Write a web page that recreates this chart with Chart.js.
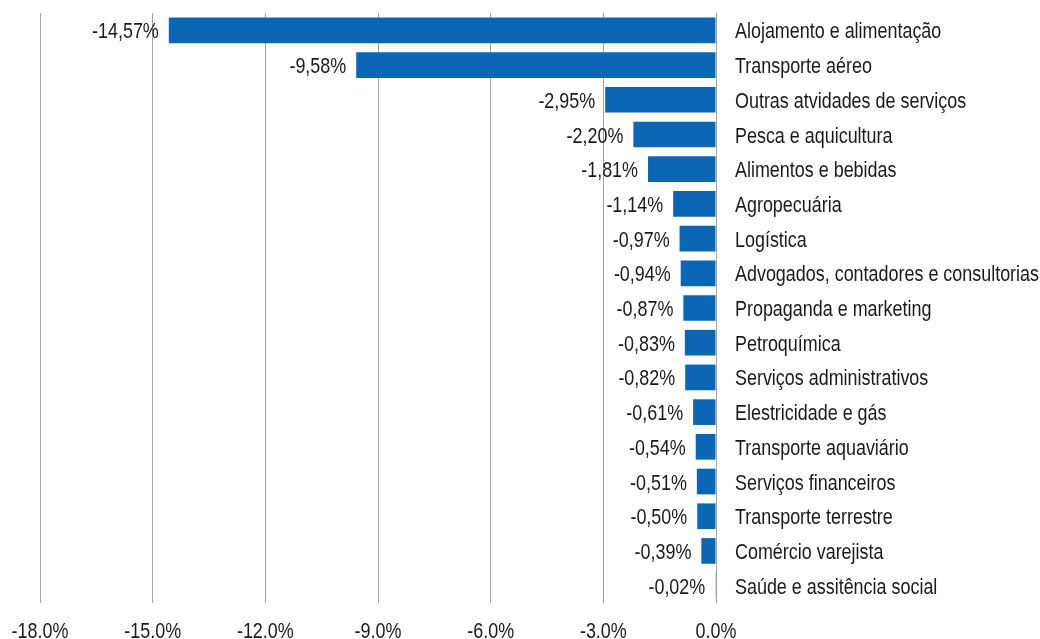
<!DOCTYPE html>
<html>
<head>
<meta charset="utf-8">
<script src="https://cdn.jsdelivr.net/npm/chart.js@4"></script>
<style>
  html, body { margin: 0; padding: 0; background: #fff; }
  #wrap { width: 1040px; height: 639px; }
</style>
</head>
<body>
<div id="wrap"><canvas id="myChart" width="1040" height="639"></canvas></div>
<script>
const categories = [
  "Alojamento e alimentação",
  "Transporte aéreo",
  "Outras atvidades de serviços",
  "Pesca e aquicultura",
  "Alimentos e bebidas",
  "Agropecuária",
  "Logística",
  "Advogados, contadores e consultorias",
  "Propaganda e marketing",
  "Petroquímica",
  "Serviços administrativos",
  "Elestricidade e gás",
  "Transporte aquaviário",
  "Serviços financeiros",
  "Transporte terrestre",
  "Comércio varejista",
  "Saúde e assitência social"
]
const values = [-14.57, -9.58, -2.95, -2.20, -1.81, -1.14, -0.97, -0.94, -0.87, -0.83, -0.82, -0.61, -0.54, -0.51, -0.50, -0.39, -0.02]
const xTicks = [-18, -15, -12, -9, -6, -3, 0]
const xTickLabels = ["-18.0%", "-15.0%", "-12.0%", "-9.0%", "-6.0%", "-3.0%", "0.0%"]

const FONT = "'Liberation Sans', Arial, sans-serif"
const NARROW = 0.815   // no narrow face installed, so squeeze text horizontally
const BLUE = '#0b67b6'

// every fillText on this chart gets a maxWidth so the text comes out condensed
const squeeze = {
  id: 'squeeze',
  beforeInit(chart) {
    const c = chart.ctx
    const fill = c.fillText.bind(c)
    c.fillText = (text, x, y, maxWidth) => {
      const w = c.measureText(text).width * NARROW
      fill(text, x, y, maxWidth === undefined ? w : Math.min(w, maxWidth))
    }
  }
}

// percent label just left of each bar end, comma as decimal mark
const valueLabels = {
  id: 'valueLabels',
  afterDatasetsDraw(chart) {
    const ctx = chart.ctx
    const meta = chart.getDatasetMeta(0)
    ctx.save()
    ctx.font = "22px " + FONT
    ctx.fillStyle = '#1a1a1a'
    ctx.textAlign = 'right'
    ctx.textBaseline = 'middle'
    meta.data.forEach((bar, i) => {
      const txt = values[i].toFixed(2).replace('.', ',') + '%'
      ctx.fillText(txt, bar.x - 10, bar.y + 2)
    })
    ctx.restore()
  }
}

const ctx = document.getElementById('myChart')
const myChart = new Chart(ctx, {
  type: 'bar',
  data: {
    labels: categories,
    datasets: [{
      data: values,
      backgroundColor: BLUE,
      borderWidth: 0,
      categoryPercentage: 1,
      barPercentage: 0.74
    }]
  },
  plugins: [squeeze, valueLabels],
  options: {
    indexAxis: 'y',
    responsive: false,
    animation: false,
    layout: { padding: { top: 13, left: 40, right: 0, bottom: 0 } },
    plugins: {
      legend: { display: false },
      tooltip: { enabled: false }
    },
    scales: {
      x: {
        min: -18,
        max: 0,
        afterBuildTicks(scale) {
          scale.ticks = xTicks.map(v => ({ value: v }))
        },
        afterFit(scale) {
          scale.height = 36
          scale.paddingLeft = 0
          scale.paddingRight = 0
        },
        border: { display: false },
        grid: { color: '#a3a3a3', lineWidth: 1, drawTicks: false },
        ticks: {
          maxRotation: 0,
          autoSkip: false,
          padding: 16,
          color: '#1a1a1a',
          font: { family: FONT, size: 22 },
          callback: (v) => xTickLabels[xTicks.indexOf(v)]
        }
      },
      y: {
        position: 'right',
        afterFit(scale) {
          scale.width = 324
          scale.paddingTop = 0
          scale.paddingBottom = 0
        },
        border: { display: false },
        grid: { display: false, drawTicks: false },
        ticks: {
          padding: 19,
          labelOffset: 2,
          color: '#1a1a1a',
          font: { family: FONT, size: 22 }
        }
      }
    }
  }
})
</script>
</body>
</html>
